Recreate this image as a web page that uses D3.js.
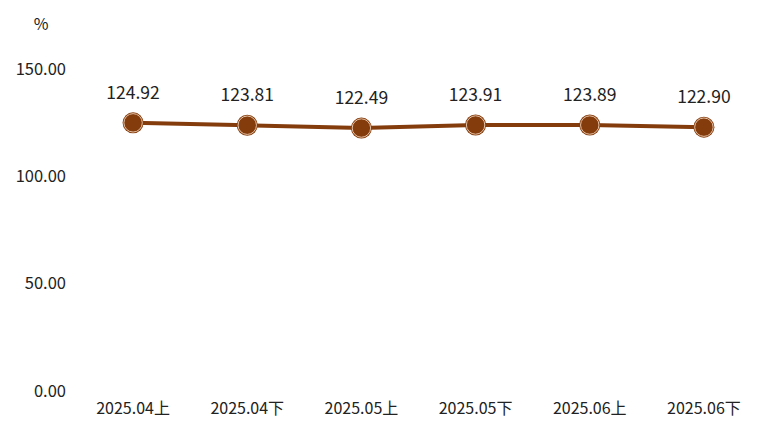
<!DOCTYPE html>
<html><head><meta charset="utf-8">
<script src="https://cdn.jsdelivr.net/npm/d3@7"></script>
<style>body{margin:0;background:#fff}svg{display:block}text{font-family:"Noto Sans CJK SC","Noto Sans",sans-serif;fill:#222}</style>
</head><body><svg id="c" width="772" height="430"></svg>
<script>
const categories = ["2025.04上","2025.04下","2025.05上","2025.05下","2025.06上","2025.06下"];
const values = [124.92,123.81,122.49,123.91,123.89,122.90];
const yTicks = [0,50,100,150];
const unit = "%";

const svg = d3.select("#c");
const x = d3.scaleBand().domain(categories).range([76,761]);
const y = d3.scaleLinear().domain([0,150]).range([391,69]);
const cx = d => x(d) + x.bandwidth()/2;
const color = "#843c0c";

svg.append("text").attr("x",41).attr("y",30).attr("text-anchor","middle").style("font-size","16px").text(unit);

svg.selectAll(".yt").data(yTicks).enter().append("text")
  .attr("x",66).attr("y",d=>y(d)).attr("dy","0.35em").attr("text-anchor","end")
  .style("font-size","16.5px").text(d=>d.toFixed(2));

svg.selectAll(".xt").data(categories).enter().append("text")
  .attr("x",d=>cx(d)).attr("y",414).attr("text-anchor","middle")
  .style("font-size","16px").text(d=>d);

const data = categories.map((c,i)=>({c,v:values[i]}));
svg.append("path").datum(data)
  .attr("d", d3.line().x(d=>cx(d.c)).y(d=>y(d.v)))
  .attr("fill","none").attr("stroke",color).attr("stroke-width",4);

const g = svg.selectAll(".pt").data(data).enter().append("g");
g.append("circle").attr("cx",d=>cx(d.c)).attr("cy",d=>y(d.v)).attr("r",10.5).attr("fill",color);
g.append("circle").attr("cx",d=>cx(d.c)).attr("cy",d=>y(d.v)).attr("r",9.2).attr("fill","none").attr("stroke","#e6c2a6").attr("stroke-width",1);
g.append("text").attr("x",d=>cx(d.c)).attr("y",d=>y(d.v)-24).attr("text-anchor","middle")
  .style("font-size","17.5px").text(d=>d.v.toFixed(2));
</script></body></html>
